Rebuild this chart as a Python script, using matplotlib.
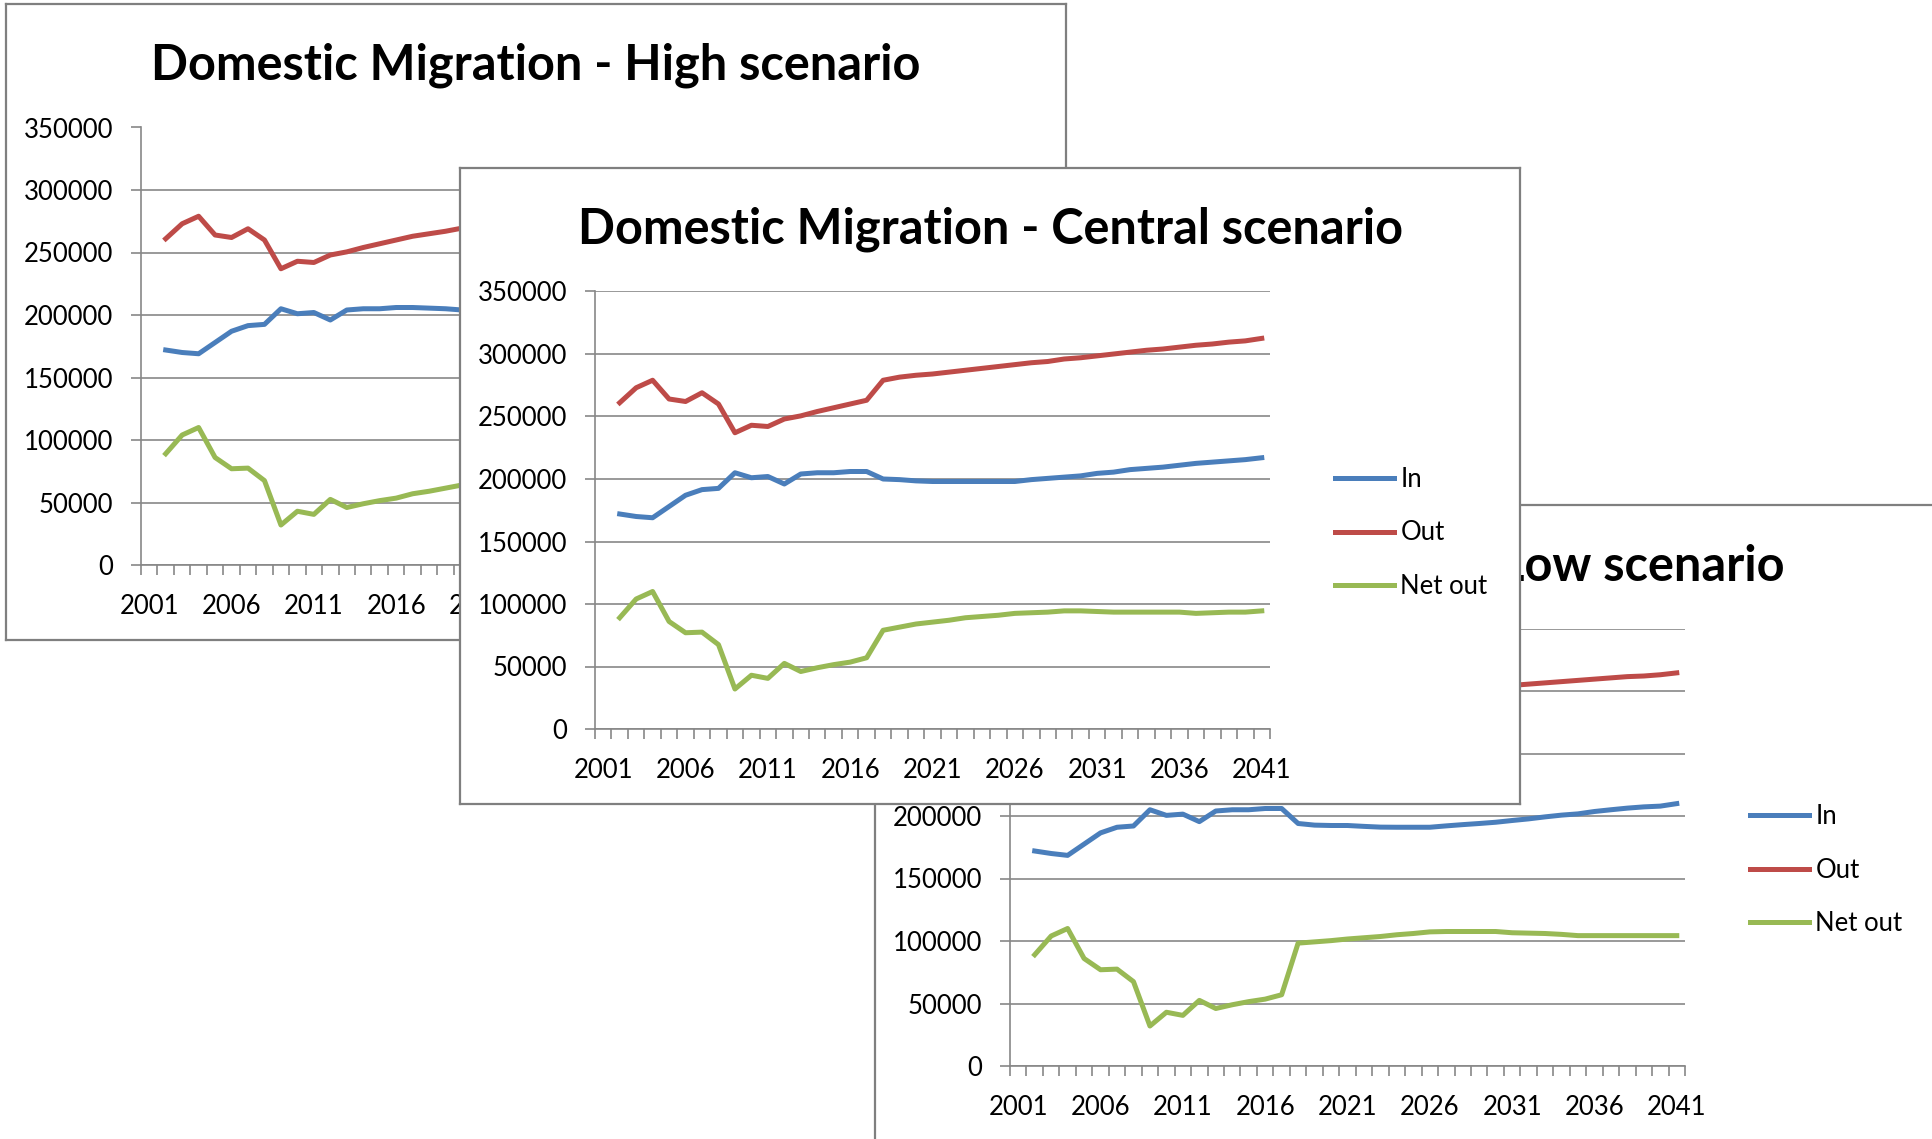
import matplotlib.pyplot as plt
import numpy as np

plt.rcParams['font.family'] = ['Lato', 'DejaVu Sans']

# data
years = list(range(2002, 2042))
label_years = list(range(2001, 2042, 5))

central_in = [172000, 170000, 169000, 178000, 187000, 191500, 192500, 205000, 201000, 202000,
              196000, 204000, 205000, 205000, 206000, 206000, 200000, 199500, 198500, 198000,
              198000, 198000, 198000, 198000, 198000, 199500, 200500, 201500, 202500, 204500,
              205500, 207500, 208500, 209500, 211000, 212500, 213500, 214500, 215500, 217000]
central_out = [261000, 273000, 279000, 264000, 262000, 269000, 260000, 237000, 243000, 242000,
               248000, 250500, 254000, 257000, 260000, 263000, 279000, 281500, 283000, 284000,
               285500, 287000, 288500, 290000, 291500, 293000, 294000, 296000, 297000, 298500,
               300000, 301500, 303000, 304000, 305500, 307000, 308000, 309500, 310500, 312500]
central_net = [89000, 104000, 110000, 86000, 77000, 77500, 67500, 32000, 43000, 40500,
               52500, 46000, 49000, 51500, 53500, 57000, 79000, 81500, 84000, 85500,
               87000, 89000, 90000, 91000, 92500, 93000, 93500, 94500, 94500, 94000,
               93500, 93500, 93500, 93500, 93500, 92500, 93000, 93500, 93500, 94500]

# high scenario: only the part not hidden by the central window
high_years = list(range(2002, 2021))
high_in = [172000, 170000, 169000, 178000, 187000, 191500, 192500, 205000, 201000, 202000,
           196000, 204000, 205000, 205000, 206000, 206000, 205500, 205000, 204000]
high_out = [261000, 273000, 279000, 264000, 262000, 269000, 260000, 237000, 243000, 242000,
            248000, 250500, 254000, 257000, 260000, 263000, 265000, 267000, 269500]
high_net = [89000, 104000, 110000, 86000, 77000, 77500, 67500, 32000, 43000, 40500,
            52500, 46000, 49000, 51500, 53500, 57000, 59000, 61500, 64000]

low_in = [172000, 170000, 168500, 177500, 186500, 191000, 192000, 205000, 200500, 201500,
          195500, 204000, 205000, 205000, 206000, 206000, 194000, 192700, 192400, 192400,
          191700, 191100, 191000, 191000, 191000, 192100, 193100, 194000, 195000, 196400,
          197700, 199300, 200700, 201700, 203600, 205000, 206300, 207300, 207900, 209900]
low_out = [261000, 273000, 279000, 264000, 262000, 269000, 260000, 237000, 243000, 242000,
           248000, 250500, 254000, 257000, 260000, 263000, 292300, 292000, 292700, 294000,
           294300, 294700, 296100, 297100, 298300, 299700, 300700, 301600, 302600, 304500,
           305500, 306500, 307500, 308500, 309500, 310500, 311500, 312000, 313000, 314500]
low_net = [89000, 104000, 110000, 86000, 77000, 77500, 67500, 32000, 43000, 40500,
           52500, 46000, 49000, 51500, 53500, 57000, 98300, 99300, 100300, 101600,
           102600, 103600, 105000, 106000, 107300, 107600, 107600, 107600, 107600, 106600,
           106300, 106000, 105300, 104300, 104300, 104300, 104300, 104300, 104300, 104300]

C_IN = '#4A7EBB'
C_OUT = '#BE4B48'
C_NET = '#98B954'
GREY = '#878787'

W, H = 1932, 1139
FW, FH = 1060, 636

fig = plt.figure(figsize=(W / 100, H / 100), dpi=100)
fig.patch.set_facecolor('white')


def add_px(x, y, w, h):
    return fig.add_axes([x / W, 1 - (y + h) / H, w / W, h / H])


def panel(x0, y0, title, yrs, v_in, v_out, v_net):
    # window frame
    frame = add_px(x0, y0, FW, FH)
    frame.set_xticks([])
    frame.set_yticks([])
    frame.set_facecolor('white')
    for s in frame.spines.values():
        s.set_color('#7f7f7f')
        s.set_linewidth(1.6)
    frame.text(0.5, 1 - 61 / FH, title, transform=frame.transAxes, ha='center',
               va='center', fontsize=35, fontweight='bold', color='black')

    # chart
    ax = add_px(x0 + 135, y0 + 123.5, 675, 437.5)
    ax.plot(yrs, v_in, color=C_IN, lw=3.6, label='In')
    ax.plot(yrs, v_out, color=C_OUT, lw=3.6, label='Out')
    ax.plot(yrs, v_net, color=C_NET, lw=3.6, label='Net out')
    ax.set_xlim(2000.5, 2041.5)
    ax.set_ylim(0, 350000)
    ax.set_yticks(range(0, 350001, 50000))
    ax.set_yticklabels([str(v) for v in range(0, 350001, 50000)])
    ax.set_xticks(label_years)
    ax.set_xticklabels([str(y) for y in label_years])
    ax.set_xticks(np.arange(2000.5, 2042, 1), minor=True)
    ax.tick_params(axis='x', which='major', length=0, pad=21, labelsize=18.5)
    ax.tick_params(axis='x', which='minor', length=7, color=GREY, width=1.2)
    ax.tick_params(axis='y', length=7, color=GREY, width=1.2, pad=13, labelsize=18.5)
    ax.grid(axis='y', color=GREY, lw=1.2)
    ax.set_axisbelow(True)
    ax.spines['top'].set_visible(False)
    ax.spines['right'].set_visible(False)
    for s in ('left', 'bottom'):
        ax.spines[s].set_color(GREY)
        ax.spines[s].set_linewidth(1.2)
    ax.legend(loc='center left', bbox_to_anchor=(1.096, 0.448), frameon=False,
              fontsize=18.5, handlelength=2.3, handletextpad=0.25, labelspacing=1.12,
              borderaxespad=0, borderpad=0)
    return ax


panel(6, 4, 'Domestic Migration - High scenario', high_years, high_in, high_out, high_net)
panel(875, 505, 'Domestic Migration - Low scenario', years, low_in, low_out, low_net)
panel(460, 168, 'Domestic Migration - Central scenario', years, central_in, central_out, central_net)

fig.savefig('out.png', dpi=100, facecolor='white')
